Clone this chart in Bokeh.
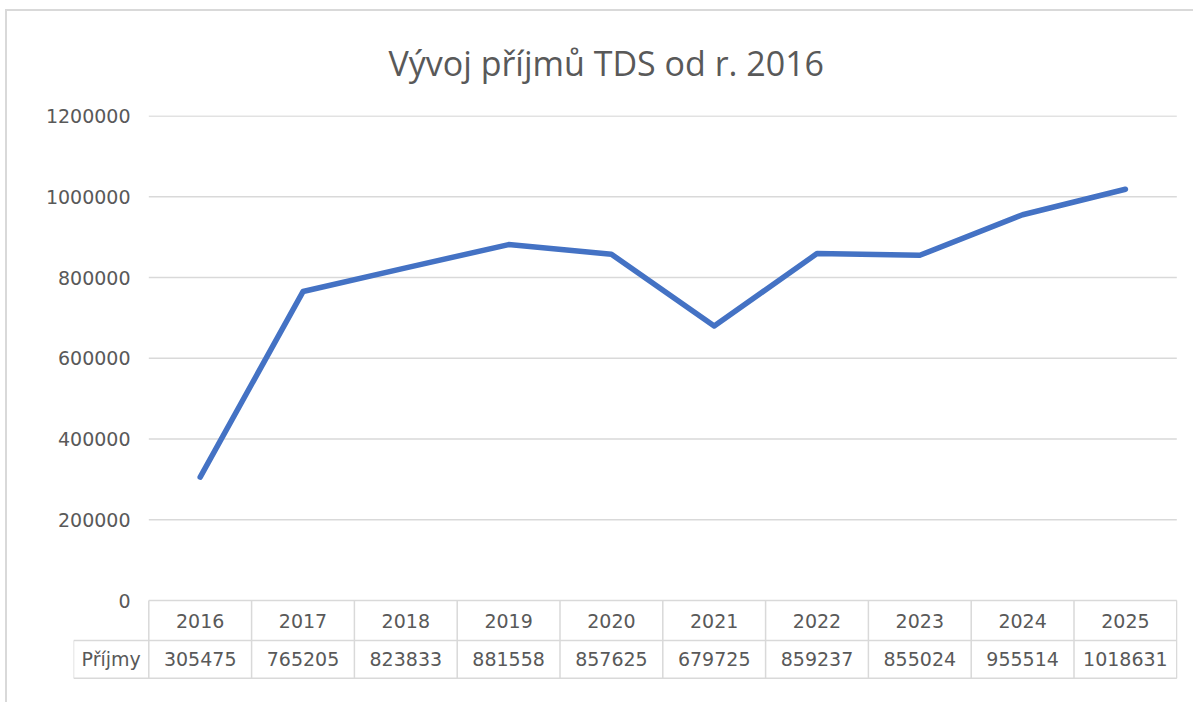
from bokeh.plotting import figure
from bokeh.models import Range1d, FixedTicker, BasicTickFormatter, ColumnDataSource
from bokeh.core.properties import value
from bokeh.embed import file_html
from bokeh.resources import INLINE

# ---- data ----
years = ["2016", "2017", "2018", "2019", "2020", "2021", "2022", "2023", "2024", "2025"]
prijmy = [305475, 765205, 823833, 881558, 857625, 679725, 859237, 855024, 955514, 1018631]
y_ticks = [0, 200000, 400000, 600000, 800000, 1000000, 1200000]
title_text = "Vývoj příjmů TDS od r. 2016"
row_label = "Příjmy"

# ---- layout constants ----
LINE_COLOR = "#4472C4"
GRID_COLOR = "#d9d9d9"
TEXT_COLOR = "#595959"
NUM_FONT = "DejaVu Sans"
NUM_SIZE = "19px"
px_per_unit = 403.75 / 1e6      # y pixels per data unit
row1 = -40 / px_per_unit        # bottom of header row
row2 = -77.7 / px_per_unit      # bottom of value row
label_w = 0.7325                # width of the row-label column in category units
y_top = 1200000 + 0.5 / px_per_unit

n = len(years)
xs = [i + 0.5 for i in range(n)]

p = figure(width=1188, height=693, output_backend="svg", toolbar_location=None,
           x_range=Range1d(-label_w, -label_w + 1104 / 102.8),
           y_range=Range1d(row2 - 1.3 / px_per_unit, y_top),
           min_border_left=66, min_border_right=18, min_border_top=104, min_border_bottom=25)

p.outline_line_color = None
p.xaxis.visible = False
p.xgrid.visible = False
p.ygrid.visible = False
p.background_fill_color = "white"
p.border_fill_color = "white"

# title
p.title.text = title_text
p.title.align = "left"
p.title.offset = 315
p.title.vertical_align = "top"
p.title.text_font = "Open Sans"
p.title.text_font_size = "34px"
p.title.text_font_style = "normal"
p.title.text_color = TEXT_COLOR
p.title.standoff = 56

# y axis
ya = p.yaxis[0]
ya.ticker = FixedTicker(ticks=y_ticks)
ya.formatter = BasicTickFormatter(use_scientific=False)
ya.axis_line_color = None
ya.major_tick_line_color = None
ya.minor_tick_line_color = None
ya.major_tick_out = 0
ya.major_tick_in = 0
ya.major_label_standoff = -57
ya.major_label_text_font = NUM_FONT
ya.major_label_text_font_size = NUM_SIZE
ya.major_label_text_color = TEXT_COLOR

# gridlines (from tick values, skipping 0 which is the table top border)
grid_y = [t for t in y_ticks if t > 0]
p.segment(x0=[0] * len(grid_y), x1=[n] * len(grid_y), y0=grid_y, y1=grid_y,
          line_color=GRID_COLOR, line_width=1.5)

# data line
src = ColumnDataSource(dict(x=xs, y=prijmy, year=years, val=[str(v) for v in prijmy]))
p.line("x", "y", source=src, line_color=LINE_COLOR, line_width=5.5,
       line_cap="round", line_join="round")

# data table borders
hx0 = [0, -label_w, -label_w]
hx1 = [n, n, n]
hy = [0, row1, row2]
p.segment(x0=hx0, x1=hx1, y0=hy, y1=hy, line_color=GRID_COLOR, line_width=1.5)
vx = list(range(n + 1))
p.segment(x0=vx, x1=vx, y0=[0] * len(vx), y1=[row2] * len(vx),
          line_color=GRID_COLOR, line_width=1.5)
p.segment(x0=[-label_w], x1=[-label_w], y0=[row1], y1=[row2],
          line_color=GRID_COLOR, line_width=1.5)

# table text
p.text(x="x", y=row1 / 2, text="year", source=src, text_align="center",
       text_baseline="middle", text_font=value(NUM_FONT), text_font_size=NUM_SIZE,
       text_color=TEXT_COLOR)
p.text(x="x", y=(row1 + row2) / 2, text="val", source=src, text_align="center",
       text_baseline="middle", text_font=value(NUM_FONT), text_font_size=NUM_SIZE,
       text_color=TEXT_COLOR)
p.text(x=[-label_w / 2], y=[(row1 + row2) / 2], text=[row_label], text_align="center",
       text_baseline="middle", text_font=value(NUM_FONT), text_font_size=NUM_SIZE,
       text_color=TEXT_COLOR)

p.styles = {"border-top": "2px solid #d9d9d9", "border-left": "2px solid #d9d9d9",
            "margin-top": "9px", "margin-left": "5px"}

open("out.html", "w").write(file_html(p, INLINE))
